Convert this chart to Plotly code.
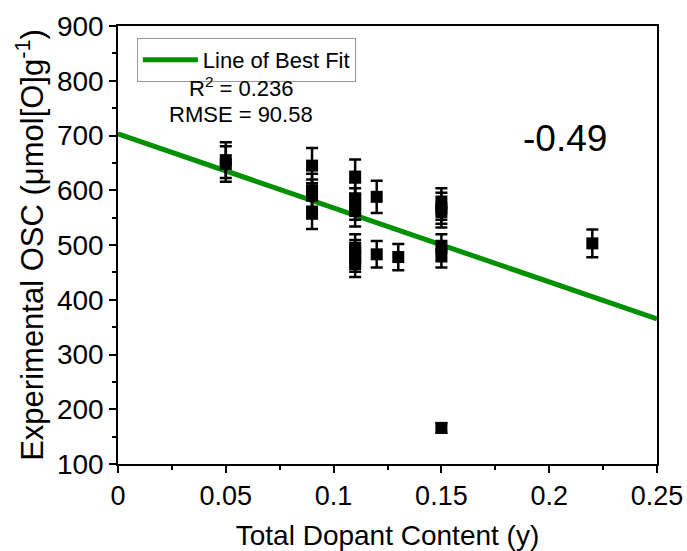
import plotly.graph_objects as go

# Data
dopant = [0.05, 0.05, 0.09, 0.09, 0.09, 0.09,
          0.11, 0.11, 0.11, 0.11, 0.11, 0.11, 0.11, 0.11,
          0.12, 0.12, 0.13,
          0.15, 0.15, 0.15, 0.15, 0.15, 0.15, 0.22]
osc = [655, 648, 645, 600, 590, 557,
       625, 585, 575, 562, 495, 485, 475, 465,
       588, 483, 478,
       575, 567, 560, 495, 483, 166, 503]
err_pct = 5

fit_x = [0, 0.25]
fit_y = [703, 365]

font_family = "Liberation Sans"

fig = go.Figure()
fig.add_trace(go.Scatter(
    x=fit_x, y=fit_y, mode="lines", name="Line of Best Fit",
    line=dict(color="#009000", width=5), showlegend=True))
fig.add_trace(go.Scatter(
    x=dopant, y=osc, mode="markers", showlegend=False,
    marker=dict(symbol="square", size=12, color="black"),
    error_y=dict(type="percent", value=err_pct, color="black", thickness=2.5, width=6)))

fig.add_annotation(x=0.229, y=0.861, xref="paper", yref="paper",
                   xanchor="center", yanchor="middle",
                   text="R<sup>2</sup> = 0.236", showarrow=False,
                   font=dict(size=22, color="black", family=font_family))
fig.add_annotation(x=0.229, y=0.797, xref="paper", yref="paper",
                   xanchor="center", yanchor="middle",
                   text="RMSE = 90.58", showarrow=False,
                   font=dict(size=22, color="black", family=font_family))
fig.add_annotation(x=0.829, y=0.744, xref="paper", yref="paper",
                   xanchor="center", yanchor="middle",
                   text="-0.49", showarrow=False,
                   font=dict(size=37, color="black", family=font_family))

fig.update_layout(
    width=687, height=551,
    margin=dict(l=118, r=30, t=26, b=87, autoexpand=False),
    paper_bgcolor="white", plot_bgcolor="white",
    font=dict(family=font_family, color="black", size=26),
    legend=dict(x=0.035, y=0.973, xanchor="left", yanchor="top",
                bordercolor="#999999", borderwidth=1, bgcolor="white",
                font=dict(size=22), itemwidth=55, tracegroupgap=0),
    xaxis=dict(range=[0, 0.25], tickvals=[0, 0.05, 0.1, 0.15, 0.2, 0.25],
               ticktext=["0", "0.05", "0.1", "0.15", "0.2", "0.25"],
               tickfont=dict(size=27), automargin=False,
               ticks="outside", ticklen=7, tickwidth=1.5, tickcolor="black",
               minor=dict(ticks="outside", ticklen=4, dtick=0.025, tickcolor="black"),
               showline=True, linecolor="black", linewidth=1.5, mirror=True,
               showgrid=False, zeroline=False,
               title=dict(text="Total Dopant Content (y)", font=dict(size=28), standoff=18)),
    yaxis=dict(range=[100, 900], tickvals=[100, 200, 300, 400, 500, 600, 700, 800, 900],
               tickfont=dict(size=28), automargin=False,
               ticks="outside", ticklen=7, tickwidth=1.5, tickcolor="black",
               minor=dict(ticks="outside", ticklen=4, dtick=50, tickcolor="black"),
               showline=True, linecolor="black", linewidth=1.5, mirror=True,
               showgrid=False, zeroline=False,
               title=dict(text="Experimental OSC (μmol[O]g<sup>-1</sup>)", font=dict(size=31), standoff=4)),
)

fig.write_html("out.html")
